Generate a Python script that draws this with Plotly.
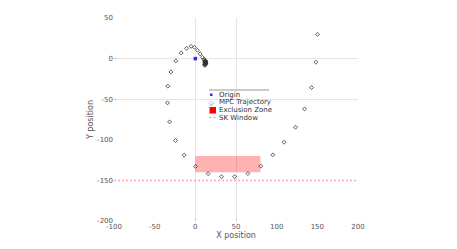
import plotly.graph_objects as go

# MPC trajectory
traj_x = [150.2, 148.2, 142.9, 134.3, 123.2, 109.2, 95.3, 80.5, 64.6, 48.2, 32.2, 15.8, 0.2,
          -13.8, -24.4, -31.7, -34.2, -33.8, -30.1, -24.0, -17.4, -10.8, -5.2, -1.0, 2.7, 5.9,
          8.8, 10.6, 11.6, 12.2, 12.5, 12.4, 12.0, 11.6, 11.4, 11.8, 12.3, 12.8, 12.6, 12.1,
          11.7, 11.9, 12.4, 12.9, 13.1, 12.7]
traj_y = [29.9, -4.5, -35.7, -61.9, -84.5, -103.0, -118.5, -132.5, -141.5, -145.5, -145.5,
          -141.8, -132.8, -118.9, -100.9, -77.9, -54.5, -34.0, -16.4, -2.9, 7.0, 12.7, 15.1,
          13.9, 10.2, 5.8, 1.6, -0.8, -2.6, -4.0, -5.3, -6.5, -7.6, -8.4, -7.2, -6.0, -5.0,
          -4.2, -3.2, -2.4, -3.6, -4.8, -6.2, -7.0, -5.6, -3.8]

origin_x = [0]
origin_y = [0]

zone_x = [0, 80, 80, 0, 0]
zone_y = [-120, -120, -140, -140, -120]

sk_x = [-100, 200]
sk_y = [-150, -150]

x_ticks = [-100, -50, 0, 50, 100, 150, 200]
y_ticks = [50, 0, -50, -100, -150, -200]
x_grid = [0, 50]
y_grid = [0, -50]

legend_names = ["Origin", "MPC Trajectory", "Exclusion Zone", "SK Window"]

# figure geometry (page has an 8px body margin)
OFF = 8
W, H = 457 - OFF, 249 - OFF
PL, PR, PT, PB = 114, 358, 18, 221  # plot area in window pixels


def px(xp):
    return (xp - PL) / (PR - PL)


def py(yp):
    return (PB - yp) / (PB - PT)


fig = go.Figure()
fig.add_trace(go.Scatter(x=zone_x, y=zone_y, mode="lines", name=legend_names[2],
                         fill="toself", fillcolor="rgba(255,0,0,0.3)",
                         line=dict(width=0, color="rgba(255,0,0,0.3)"), showlegend=False))
fig.add_trace(go.Scatter(x=sk_x, y=sk_y, mode="lines", name=legend_names[3],
                         line=dict(color="rgba(255,0,0,0.35)", width=1.5, dash="2px,2px"),
                         showlegend=False))
fig.add_trace(go.Scatter(x=origin_x, y=origin_y, mode="markers", name=legend_names[0],
                         marker=dict(symbol="square", size=3.5, color="#2a2aff"), showlegend=False))
fig.add_trace(go.Scatter(x=traj_x, y=traj_y, mode="markers", name=legend_names[1],
                         marker=dict(symbol="diamond-open", size=3, color="#333333",
                                     line=dict(width=0.8)), showlegend=False))

axis_common = dict(showgrid=False, zeroline=False, showline=False, ticks="",
                   tickfont=dict(size=7, color="#555555", family="DejaVu Sans"),
                   mirror="ticks", automargin=False)

# manual compact legend
shapes = [
    dict(type="line", xref="paper", yref="paper", x0=px(209), x1=px(269), y0=py(90), y1=py(90),
         line=dict(color="#999999", width=1)),
    dict(type="rect", xref="paper", yref="paper", x0=px(210), x1=px(212.5), y0=py(93.5), y1=py(96),
         line=dict(width=0), fillcolor="#2a2aff"),
    dict(type="rect", xref="paper", yref="paper", x0=px(209.5), x1=px(216), y0=py(107), y1=py(113.5),
         line=dict(width=0), fillcolor="red"),
    dict(type="line", xref="paper", yref="paper", x0=px(209.5), x1=px(216), y0=py(117.5), y1=py(117.5),
         line=dict(color="rgba(255,0,0,0.35)", width=1.5, dash="2px,2px")),
]
legend_y = [94.5, 102.2, 110, 117.6]
annotations = []
for name, yy in zip(legend_names, legend_y):
    annotations.append(dict(xref="paper", yref="paper", x=px(216.5), y=py(yy), text=name,
                            showarrow=False, xanchor="left", yanchor="middle",
                            font=dict(size=7, color="#333333", family="DejaVu Sans")))
annotations.append(dict(xref="paper", yref="paper", x=px(211.3), y=py(102.2), text="◇",
                        showarrow=False, xanchor="center", yanchor="middle",
                        font=dict(size=6, color="#333333", family="DejaVu Sans")))

fig.update_layout(
    width=W, height=H,
    margin=dict(l=PL - OFF, r=W - (PR - OFF), t=PT - OFF, b=H - (PB - OFF)),
    plot_bgcolor="white", paper_bgcolor="white",
    font=dict(family="DejaVu Sans", size=7, color="#555555"),
    xaxis=dict(range=[-100, 200], tickvals=x_ticks, ticktext=[str(v) for v in x_ticks],
               minor=dict(tickvals=x_grid, ticks="inside", ticklen=3, tickcolor="#c8c8c8",
                          showgrid=True, gridcolor="#e6e6e6", gridwidth=1),
               title=dict(text="X position", font=dict(size=8), standoff=0), **axis_common),
    yaxis=dict(range=[-200, 50], tickvals=y_ticks, ticktext=[str(v) for v in y_ticks],
               minor=dict(tickvals=y_grid, ticks="inside", ticklen=3, tickcolor="#c8c8c8",
                          showgrid=True, gridcolor="#e6e6e6", gridwidth=1),
               title=dict(text="Y position", font=dict(size=8), standoff=2), **axis_common),
    shapes=shapes,
    annotations=annotations,
    showlegend=False,
)
fig.write_html("out.html")
